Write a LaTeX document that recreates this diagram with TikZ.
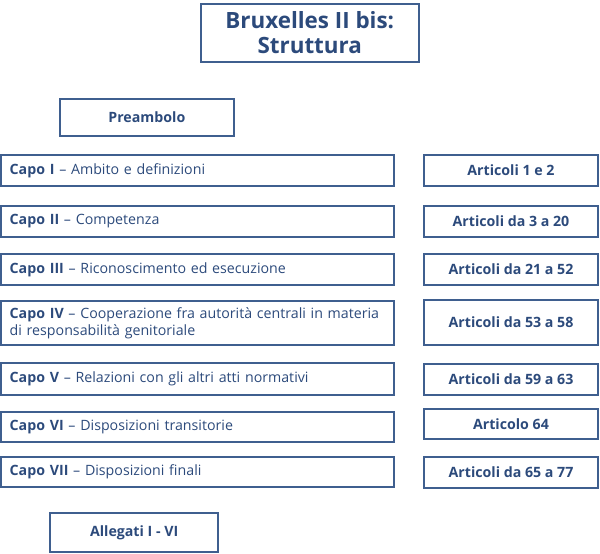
\documentclass[tikz,border=0pt]{standalone}
\usepackage{fontspec}
\setmainfont{Open Sans}
\definecolor{txt}{HTML}{2C4A7B}
\definecolor{brd}{HTML}{3F5F8F}
\tikzset{
  base/.style={draw=brd, line width=2pt, text=txt, inner sep=0pt, outer sep=0pt, anchor=north west},
  lbox/.style={base, minimum width=393pt, text width=376pt, inner xsep=8.5pt, align=left, font=\fontsize{14.2}{17}\selectfont},
  rbox/.style={base, minimum width=174pt, align=center, font=\bfseries\fontsize{14.2}{17}\selectfont},
  cbox/.style={base, align=center, font=\bfseries\fontsize{14.2}{17}\selectfont},
}
\begin{document}
\begin{tikzpicture}[x=1pt,y=1pt]
\useasboundingbox (0,0) rectangle (600,-554);
% title
\node[cbox, minimum width=217.5pt, minimum height=58.6pt, font=\bfseries\fontsize{22.4}{25}\selectfont] (title) at (201,-3.7) {Bruxelles II bis:\\Struttura};
\node[cbox, minimum width=174.3pt, minimum height=36.4pt] (pre) at (59.7,-99.3) {Preambolo};
% left boxes
\node[lbox, minimum height=30.7pt] (c1) at (1.2,-155) {\textbf{Capo I} – Ambito e definizioni};
\node[lbox, minimum height=31pt] (c2) at (1.2,-206) {\textbf{Capo II} – Competenza};
\node[lbox, minimum height=31pt] (c3) at (1.2,-254) {\textbf{Capo III} – Riconoscimento ed esecuzione};
\node[lbox, minimum height=44pt] (c4) at (1.2,-301) {\textbf{Capo IV} – Cooperazione fra autorità centrali in materia\\di responsabilità genitoriale};
\node[lbox, minimum height=31.5pt] (c5) at (1.2,-363) {\textbf{Capo V} – Relazioni con gli altri atti normativi};
\node[lbox, minimum height=30pt] (c6) at (1.2,-411.5) {\textbf{Capo VI} – Disposizioni transitorie};
\node[lbox, minimum height=30.5pt] (c7) at (1.2,-456.5) {\textbf{Capo VII} – Disposizioni finali};
% right boxes
\node[rbox, minimum height=30.7pt] (a1) at (424,-155) {Articoli 1 e 2};
\node[rbox, minimum height=31pt] (a2) at (424,-206) {Articoli da 3 a 20};
\node[rbox, minimum height=31pt] (a3) at (424,-253.7) {Articoli da 21 a 52};
\node[rbox, minimum height=44.7pt] (a4) at (424,-300) {Articoli da 53 a 58};
\node[rbox, minimum height=31pt] (a5) at (424,-363.7) {Articoli da 59 a 63};
\node[rbox, minimum height=30.6pt] (a6) at (424,-408.7) {Articolo 64};
\node[rbox, minimum height=31pt] (a7) at (424,-456.7) {Articoli da 65 a 77};
% annexes
\node[cbox, minimum width=167.7pt, minimum height=39.3pt] (all) at (50.3,-512.7) {Allegati I - VI};
\end{tikzpicture}
\end{document}
